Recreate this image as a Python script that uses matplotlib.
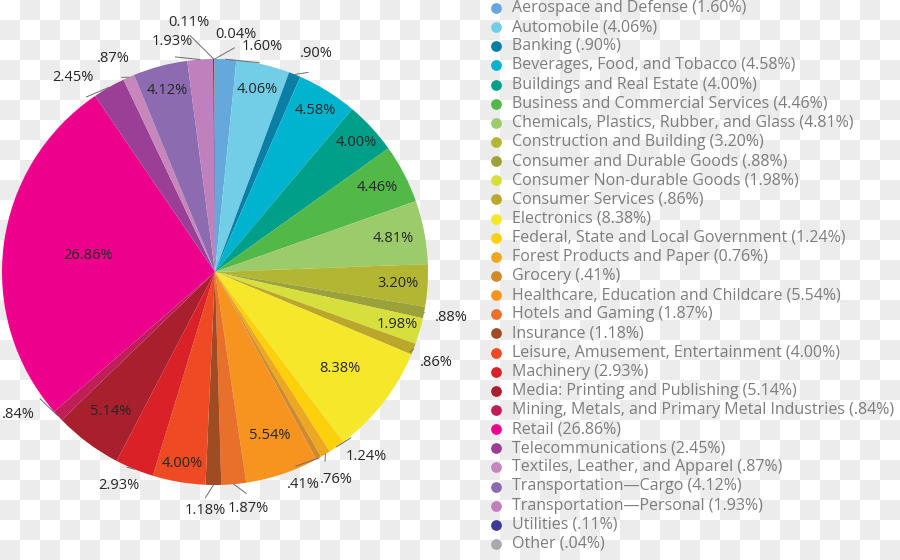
import numpy as np
import matplotlib
matplotlib.use("Agg")
import matplotlib.pyplot as plt

plt.rcParams['font.family'] = ['Open Sans', 'DejaVu Sans']

# 업종별 비중 데이터 (12시 방향부터 시계방향)
sectors = [
    "Aerospace and Defense", "Automobile", "Banking", "Beverages, Food, and Tobacco",
    "Buildings and Real Estate", "Business and Commercial Services",
    "Chemicals, Plastics, Rubber, and Glass", "Construction and Building",
    "Consumer and Durable Goods", "Consumer Non-durable Goods", "Consumer Services",
    "Electronics", "Federal, State and Local Government", "Forest Products and Paper",
    "Grocery", "Healthcare, Education and Childcare", "Hotels and Gaming", "Insurance",
    "Leisure, Amusement, Entertainment", "Machinery", "Media: Printing and Publishing",
    "Mining, Metals, and Primary Metal Industries", "Retail", "Telecommunications",
    "Textiles, Leather, and Apparel", "Transportation\u2014Cargo",
    "Transportation\u2014Personal", "Utilities", "Other",
]
shares = [1.60, 4.06, 0.90, 4.58, 4.00, 4.46, 4.81, 3.20, 0.88, 1.98, 0.86, 8.38, 1.24,
          0.76, 0.41, 5.54, 1.87, 1.18, 4.00, 2.93, 5.14, 0.84, 26.86, 2.45, 0.87, 4.12,
          1.93, 0.11, 0.04]
pie_labels = ["1.60%", "4.06%", ".90%", "4.58%", "4.00%", "4.46%", "4.81%", "3.20%",
              ".88%", "1.98%", ".86%", "8.38%", "1.24%", ".76%", ".41%", "5.54%", "1.87%",
              "1.18%", "4.00%", "2.93%", "5.14%", ".84%", "26.86%", "2.45%", ".87%",
              "4.12%", "1.93%", "0.11%", "0.04%"]
legend_labels = ["1.60%", "4.06%", ".90%", "4.58%", "4.00%", "4.46%", "4.81%", "3.20%",
                 ".88%", "1.98%", ".86%", "8.38%", "1.24%", "0.76%", ".41%", "5.54%",
                 "1.87%", "1.18%", "4.00%", "2.93%", "5.14%", ".84%", "26.86%", "2.45%",
                 ".87%", "4.12%", "1.93%", ".11%", ".04%"]
colors = ["#64a8dc", "#72cde6", "#0a7fa6", "#00b4cf", "#009f8a", "#52b848", "#9bcb6a",
          "#b3b632", "#9ca23a", "#d6df3c", "#bba72a", "#f5e82a", "#fdd00c", "#eda821",
          "#cf8a2e", "#f7941f", "#e8702a", "#9f4c22", "#ee4a24", "#da2127", "#a81f2d",
          "#c01e58", "#ec008c", "#9b3e96", "#c786bc", "#8c6bb1", "#bf80bd", "#3e3b96",
          "#a7a9ac"]

# 라벨 위치 (안쪽: 반지름만, 바깥쪽: 반지름 + 각도 보정)
label_r = [1.08, 0.88, 1.13, 0.89, 0.90, 0.86, 0.85, 0.86, 1.13, 0.89, 1.12, 0.74, 1.12,
           1.13, 1.08, 0.81, 1.12, 1.12, 0.91, 1.10, 0.82, 1.14, 0.60, 1.13, 1.11, 0.88,
           1.10, 1.18, 1.12]
label_shift = [9, 0, 3, 0, 0, 0, 0, 0, 0, 0, 1, 0, -4.5, 1, 6.5, 0, -3, 2, 0, 2, 0, 6.5,
               0, -6.4, -1.7, 0, -6.4, -5.6, 5]

W, H = 900, 560
fig = plt.figure(figsize=(9, 5.6), dpi=100)

# 배경 체크무늬
bg = fig.add_axes([0, 0, 1, 1])
cell = 20
yy, xx = np.mgrid[0:H // cell + 1, 0:W // cell + 1]
checker = np.where((xx + yy) % 2 == 1, 0.925, 1.0)
bg.imshow(checker, cmap='gray', vmin=0, vmax=1, extent=(0, (W // cell + 1) * cell,
          (H // cell + 1) * cell, 0), interpolation='nearest', zorder=0)
bg.set_xlim(0, W)
bg.set_ylim(H, 0)
bg.axis('off')

# 파이 차트
cx, cy, R = 215, 272, 213
ax = fig.add_axes([(cx - R) / W, (H - cy - R) / H, 2 * R / W, 2 * R / H])
wedges, _ = ax.pie(shares, colors=colors, startangle=90, counterclock=False, radius=1,
                   wedgeprops=dict(linewidth=0))
ax.set_xlim(-1, 1)
ax.set_ylim(-1, 1)
ax.set_aspect('equal')
ax.axis('off')

total = sum(shares)
cum = np.cumsum([0] + shares[:-1])
for i, lab in enumerate(pie_labels):
    mid = (cum[i] + shares[i] / 2) / total * 360
    ang = np.deg2rad(mid + label_shift[i])
    r = label_r[i]
    tx, ty = r * np.sin(ang), r * np.cos(ang)
    ax.text(tx, ty, lab, ha='center', va='center', fontsize=10.5, color='#262626')
    if r > 1:
        # 바깥 라벨은 가는 회색 지시선으로 연결
        m = np.deg2rad(mid)
        end_r = r - (0.105 * abs(np.sin(ang)) + 0.035 * abs(np.cos(ang))) - 0.02
        ax.plot([1.0 * np.sin(m), end_r * np.sin(ang)],
                [1.0 * np.cos(m), end_r * np.cos(ang)],
                color='#6e6e6e', lw=0.7, clip_on=False)

# 범례 (원형 마커 + 회색 글씨)
x_dot, x_txt, y0, pitch = 496, 512, 8, 19.14
for i, (name, lab, c) in enumerate(zip(sectors, legend_labels, colors)):
    y = y0 + pitch * i
    bg.scatter(x_dot, y, s=60, color=c, zorder=3, linewidths=0)
    bg.text(x_txt, y, f"{name} ({lab})", ha='left', va='center', fontsize=11.5,
            color='#7d7d7d', zorder=3)

fig.savefig("out.png", dpi=100)
